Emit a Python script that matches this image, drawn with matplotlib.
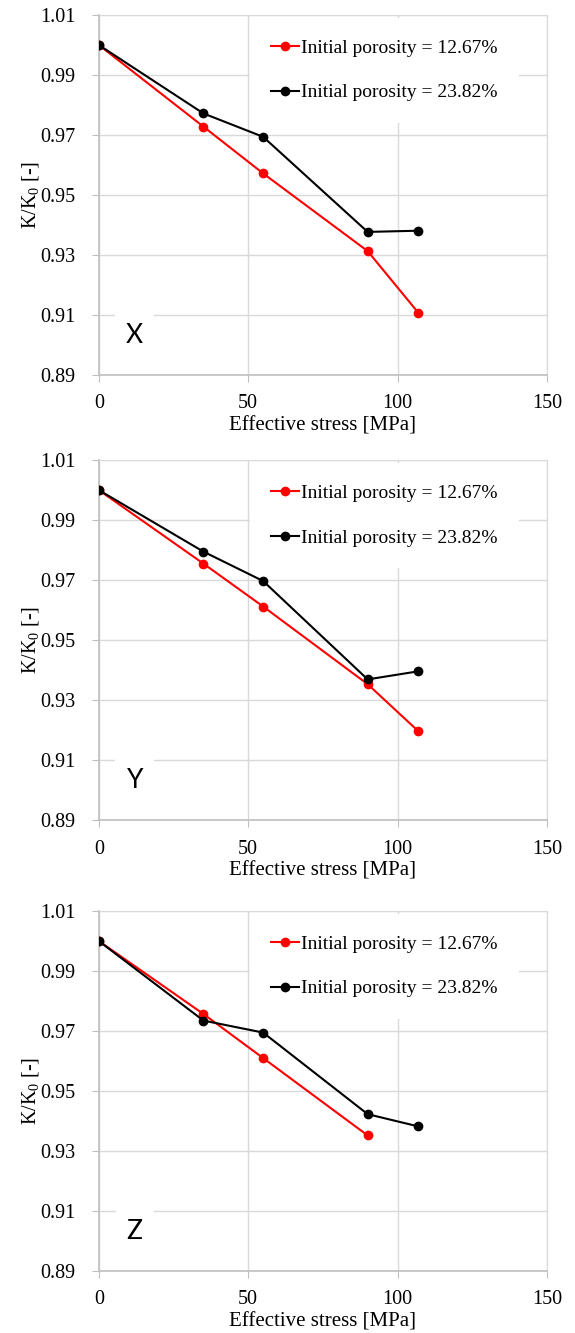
import numpy as np
import matplotlib
matplotlib.use("Agg")
import matplotlib.pyplot as plt

plt.rcParams["font.family"] = ["Liberation Serif", "DejaVu Serif"]
plt.rcParams["mathtext.fontset"] = "custom"
plt.rcParams["mathtext.rm"] = "Liberation Serif"
plt.rcParams["mathtext.it"] = "Liberation Serif:italic"

# effective stress [MPa]
stress = [0, 35, 55, 90, 107]
stress_z_low = [0, 35, 55, 90]

# K/K0 for porosity 12.67% (red) and 23.82% (black)
x_low = [1.0, 0.9728, 0.9572, 0.9313, 0.9107]
x_high = [1.0, 0.9772, 0.9694, 0.9377, 0.9381]
y_low = [1.0, 0.9755, 0.9612, 0.9353, 0.9196]
y_high = [1.0, 0.9795, 0.9697, 0.9369, 0.9396]
z_low = [1.0, 0.9757, 0.9610, 0.9352]
z_high = [1.0, 0.9735, 0.9695, 0.9423, 0.9382]

panels = [
    ("X", stress, x_low, stress, x_high),
    ("Y", stress, y_low, stress, y_high),
    ("Z", stress_z_low, z_low, stress, z_high),
]

label_low = "Initial porosity = 12.67%"
label_high = "Initial porosity = 23.82%"

grid_c = "#d9d9d9"
axis_c = "#bfbfbf"

fig = plt.figure(figsize=(5.75, 13.33), dpi=100)
bottoms = [0.7187, 0.3848, 0.0465]

for (name, xs1, ys1, xs2, ys2), b in zip(panels, bottoms):
    ax = fig.add_axes([0.172, b, 0.779, 0.270])
    ax.plot(xs1, ys1, color="#ff0000", marker="o", markersize=6, lw=1.5,
            label=label_low, zorder=3)
    ax.plot(xs2, ys2, color="black", marker="o", markersize=6, lw=1.5,
            label=label_high, zorder=3)
    ax.set_xlim(0, 150)
    ax.set_ylim(0.89, 1.01)
    ax.set_xticks([0, 50, 100, 150])
    ax.set_yticks(np.arange(0.89, 1.0101, 0.02))
    ax.set_yticklabels(["%.2f" % v for v in np.arange(0.89, 1.0101, 0.02)])
    ax.grid(True, color=grid_c, lw=1.0)
    ax.set_axisbelow(True)
    for s in ["top", "right"]:
        ax.spines[s].set_color(grid_c)
    for s in ["left", "bottom"]:
        ax.spines[s].set_color(axis_c)
        ax.spines[s].set_linewidth(1.2)
    ax.tick_params(direction="out", length=5, color=axis_c, labelsize=14.5)
    ax.tick_params(axis="y", pad=12)
    ax.tick_params(axis="x", pad=9)
    ax.set_xlabel("Effective stress [MPa]", fontsize=15, labelpad=2)
    ax.set_ylabel("K/K$_0$ [-]", fontsize=14.5, labelpad=-1)
    leg = ax.legend(loc="upper right", bbox_to_anchor=(0.96, 1.02),
                    fontsize=14, frameon=True, facecolor="white",
                    edgecolor="none", framealpha=1, handlelength=1.45,
                    handletextpad=0.1, labelspacing=1.4, borderpad=1.1,
                    fancybox=False)
    leg.set_zorder(5)
    ax.text(0.08, 0.11, name, transform=ax.transAxes, fontsize=19,
            family=["Lato", "DejaVu Sans"], va="center", ha="center",
            bbox=dict(facecolor="white", edgecolor="none", pad=8), zorder=4)

fig.savefig("out.png", dpi=100)
